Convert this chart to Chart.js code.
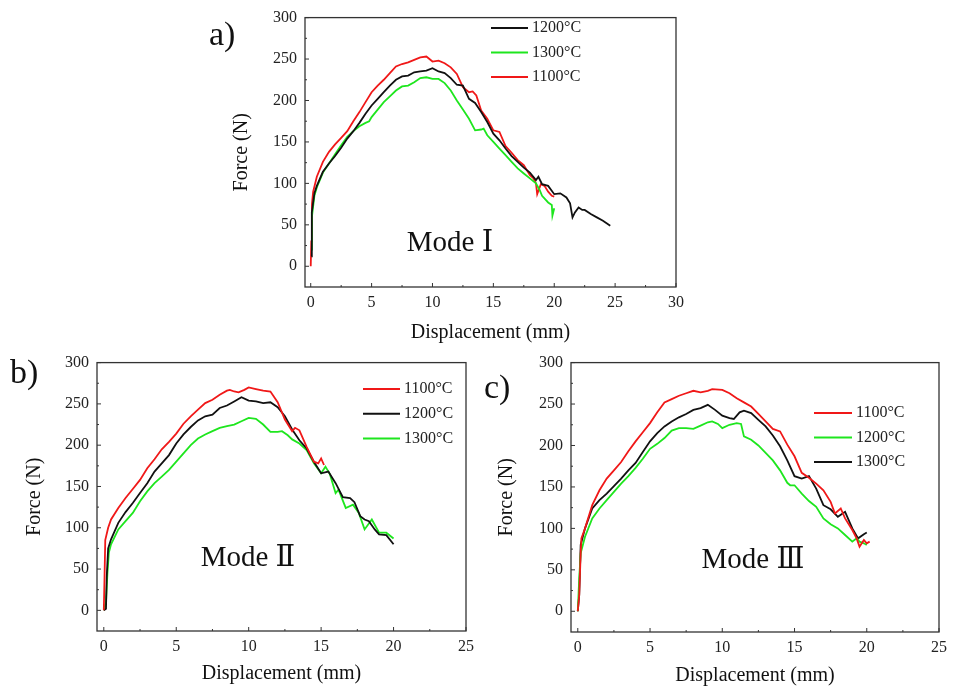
<!DOCTYPE html>
<html>
<head>
<meta charset="utf-8">
<script src="https://cdn.jsdelivr.net/npm/chart.js@4.4.1/dist/chart.umd.min.js"></script>
<style>
  body { margin:0; background:#fff; width:953px; height:693px; position:relative; overflow:hidden; }
  canvas { position:absolute; }
  .lab { position:absolute; font-family:"Liberation Serif","DejaVu Serif",serif; color:#111; white-space:nowrap; line-height:1; }
  .panel { font-size:34px; }
  .mode { font-size:29px; transform:translate(-50%,-50%); }
</style>
</head>
<body>

<canvas id="chartA" width="500" height="349" style="left:200px;top:0px"></canvas>
<canvas id="chartB" width="480" height="345" style="left:0px;top:345px"></canvas>
<canvas id="chartC" width="473" height="347" style="left:480px;top:345px"></canvas>

<div class="lab panel" style="left:209px;top:17px">a)</div>
<div class="lab panel" style="left:10px;top:355px">b)</div>
<div class="lab panel" style="left:484px;top:370px">c)</div>

<div class="lab mode" style="left:450px;top:241px">Mode Ⅰ</div>
<div class="lab mode" style="left:248px;top:556px">Mode Ⅱ</div>
<div class="lab mode" style="left:753px;top:558px">Mode Ⅲ</div>

<script>

/* DADOS - [deslocamento (mm), forca (N)] */

const xTicksA = [0,5,10,15,20,25,30]
const xTicksBC = [0,5,10,15,20,25]
const yTicks = [0,50,100,150,200,250,300]

// Mode I
const a1200 = [[0.05,12],[0.08,40],[0.1,65],[0.3,88],[0.5,97],[1,114],[1.5,124],[2,133],[2.5,143],[3,154],[3.5,163],[4,173],[4.5,184],[5,194],[5.5,202],[6,210],[6.5,218],[7,225],[7.5,229],[8,230],[8.5,234],[9,235],[9.5,236],[10,239],[10.5,235],[11,233],[11.5,227],[12,219],[12.5,218],[13,202],[13.5,197],[14,186],[14.5,174],[15,160],[15.5,152],[16,142],[16.5,133],[17,126],[17.5,119],[18,113],[18.5,104],[18.7,108],[19,99],[19.5,97],[20,87],[20.5,88],[21,83],[21.3,76],[21.5,59],[21.7,65],[22,71],[22.3,68],[22.5,68],[23,63],[23.5,59],[24,55],[24.3,52],[24.6,49]]
const a1300 = [[0.05,20],[0.1,60],[0.3,85],[0.5,95],[1,113],[1.5,124],[2,135],[2.5,146],[3,156],[3.5,163],[4,169],[4.5,173],[4.8,175],[5,180],[5.5,189],[6,198],[6.5,205],[7,212],[7.5,217],[8,218],[8.5,222],[9,227],[9.5,228],[10,226],[10.5,226],[11,221],[11.5,212],[12,200],[12.5,189],[13,178],[13.5,164],[14,165],[14.2,166],[14.5,158],[15,150],[15.5,142],[16,134],[16.5,126],[17,118],[17.5,112],[18,106],[18.5,100],[18.8,92],[19,85],[19.5,77],[19.8,74],[19.85,61],[20,70]]
const a1100 = [[0,0],[0.05,30],[0.1,75],[0.2,90],[0.5,108],[1,126],[1.5,138],[2,147],[2.5,155],[3,163],[3.5,175],[4,186],[4.5,198],[5,210],[5.5,218],[6,225],[6.5,233],[7,241],[7.5,244],[8,246],[8.5,249],[9,252],[9.5,253],[10,247],[10.5,248],[11,245],[11.5,240],[12,232],[12.5,216],[13,210],[13.3,211],[13.6,206],[14,188],[14.5,178],[15,164],[15.5,162],[16,145],[16.5,137],[17,128],[17.5,122],[18,110],[18.3,106],[18.5,100],[18.6,87],[18.9,99],[19.2,97],[19.5,90],[19.8,85],[20,84]]

// Mode II
const b1100 = [[0,0],[0.05,40],[0.1,85],[0.3,100],[0.5,110],[1,124],[1.5,136],[2,147],[2.5,158],[3,172],[3.5,183],[4,195],[4.5,204],[5,214],[5.5,226],[6,235],[6.5,243],[7,251],[7.5,255],[8,261],[8.5,266],[8.7,267],[9,265],[9.3,264],[9.7,267],[10,270],[10.5,268],[11,266],[11.5,265],[12,252],[12.5,231],[13,217],[13.2,221],[13.5,218],[14,198],[14.5,180],[14.8,178],[15,184],[15.2,176]]
const b1200 = [[0,0],[0.15,2],[0.2,40],[0.3,75],[0.5,86],[1,106],[1.5,119],[2,130],[2.5,142],[3,154],[3.5,168],[4,178],[4.5,188],[5,202],[5.5,213],[6,222],[6.5,230],[7,235],[7.5,237],[8,245],[8.5,248],[9,253],[9.5,258],[10,254],[10.5,253],[11,251],[11.5,252],[12,246],[12.5,235],[13,219],[13.5,206],[14,196],[14.5,180],[15,166],[15.5,168],[16,154],[16.5,137],[17,136],[17.3,131],[17.7,114],[18,110],[18.3,108],[18.7,98],[19,92],[19.5,91],[20,80]]
const b1300 = [[0,0],[0.15,10],[0.25,45],[0.35,70],[0.5,80],[1,98],[1.5,108],[2,118],[2.5,132],[3,144],[3.5,154],[4,162],[4.5,170],[5,180],[5.5,190],[6,200],[6.5,208],[7,213],[7.5,217],[8,221],[8.5,223],[9,225],[9.5,229],[10,233],[10.5,232],[11,225],[11.5,216],[12,216],[12.3,217],[12.7,212],[13,207],[13.5,202],[14,194],[14.5,178],[15,166],[15.3,174],[15.6,165],[16,142],[16.2,146],[16.7,124],[17.2,128],[17.6,118],[18,98],[18.5,110],[19,94],[19.5,94],[20,87]]

// Mode III
const c1100 = [[0,0],[0.1,20],[0.2,70],[0.25,88],[0.5,100],[1,128],[1.5,146],[2,160],[2.5,170],[3,180],[3.5,193],[4,205],[4.5,216],[5,227],[5.5,240],[6,252],[6.5,256],[7,260],[7.5,263],[8,266],[8.5,264],[9,266],[9.3,268],[10,267],[10.5,263],[11,257],[11.5,252],[12,247],[12.5,238],[13,229],[13.5,220],[14,217],[14.5,201],[15,187],[15.5,167],[16,161],[16.5,154],[17,146],[17.5,132],[17.8,118],[18.2,124],[18.5,112],[19,98],[19.3,88],[19.5,78],[19.8,86],[20,82],[20.2,84]]
const c1200 = [[0,0],[0.1,40],[0.2,70],[0.5,90],[1,112],[1.5,124],[2,134],[2.5,144],[3,154],[3.5,163],[4,173],[4.5,184],[5,196],[5.5,202],[6,209],[6.5,218],[7,221],[7.5,221],[8,220],[8.5,224],[9,228],[9.3,229],[9.7,226],[10,221],[10.5,225],[11,227],[11.3,226],[11.5,211],[12,207],[12.5,200],[13,191],[13.5,182],[14,170],[14.5,155],[14.7,152],[15,152],[15.5,142],[16,133],[16.5,126],[17,112],[17.5,105],[18,100],[18.5,92],[19,84],[19.3,88],[19.5,84],[19.8,82],[20,80]]
const c1300 = [[0,0],[0.1,20],[0.2,80],[0.5,100],[1,124],[1.5,134],[2,142],[2.5,151],[3,160],[3.5,170],[4,179],[4.5,192],[5,205],[5.5,215],[6,223],[6.5,229],[7,234],[7.5,238],[8,243],[8.5,245],[9,249],[9.5,243],[10,236],[10.5,233],[10.8,232],[11.2,240],[11.5,242],[12,239],[12.5,231],[13,223],[13.5,212],[14,199],[14.5,182],[15,163],[15.5,160],[16,163],[16.5,148],[17,128],[17.5,123],[18,114],[18.5,120],[19,100],[19.4,88],[19.8,93],[20,95]]

const RED = "#f01818"
const GREEN = "#1ee61e"
const BLACK = "#111111"
const SERIF = "'Liberation Serif','DejaVu Serif',serif"


/* MOLDURA, TICKS PARA DENTRO E LEGENDA */

const frame = {
    id: "frame",
    afterDatasetsDraw(chart, args, o) {
        const {ctx, chartArea: c, scales: {x, y}} = chart
        ctx.save()
        ctx.strokeStyle = "#333"
        ctx.lineWidth = 1.3
        ctx.strokeRect(c.left, c.top, c.right - c.left, c.bottom - c.top)

        const seg = (x1, y1, x2, y2) => {
            ctx.beginPath(); ctx.moveTo(x1, y1); ctx.lineTo(x2, y2); ctx.stroke()
        }
        ctx.lineWidth = 1
        x.ticks.forEach((t, i) => {
            const p = x.getPixelForValue(t.value)
            seg(p, c.bottom, p, c.bottom - 4)
            if (i < x.ticks.length - 1) {
                const m = x.getPixelForValue((t.value + x.ticks[i + 1].value) / 2)
                seg(m, c.bottom, m, c.bottom - 2)
            }
        })
        y.ticks.forEach((t, i) => {
            const p = y.getPixelForValue(t.value)
            seg(c.left, p, c.left + 4, p)
            if (i < y.ticks.length - 1) {
                const m = y.getPixelForValue((t.value + y.ticks[i + 1].value) / 2)
                seg(c.left, m, c.left + 2, m)
            }
        })

        // legenda
        ctx.font = "16px " + SERIF
        ctx.textBaseline = "middle"
        ctx.fillStyle = "#222"
        chart.data.datasets.forEach((ds, i) => {
            const ry = o.top + i * o.gap
            ctx.strokeStyle = ds.borderColor
            ctx.lineWidth = 2
            seg(o.x1, ry, o.x2, ry)
            ctx.fillText(ds.label, o.x2 + 4, ry)
        })
        ctx.restore()
    }
}


/* FUNCAO PARA CADA GRAFICO */

function grafico(id, series, xTicks, xMax, pad, yWidth, xHeight, leg) {

    return new Chart(document.getElementById(id), {
        type: "line",
        data: {
            datasets: series.map(s => ({
                label: s[0],
                data: s[1],
                borderColor: s[2],
                borderWidth: 1.8,
                pointRadius: 0,
                tension: 0,
                fill: false
            }))
        },
        options: {
            responsive: false,
            animation: false,
            layout: { padding: pad },
            plugins: {
                legend: { display: false },
                tooltip: { enabled: false },
                frame: leg
            },
            scales: {
                x: {
                    type: "linear",
                    min: -0.47,
                    max: xMax,
                    afterBuildTicks: s => { s.ticks = xTicks.map(v => ({ value: v })) },
                    afterFit: s => { s.height = xHeight },
                    grid: { display: false, drawTicks: false },
                    border: { display: false },
                    ticks: { padding: 6, color: "#222", font: { family: SERIF, size: 16 } },
                    title: { display: true, text: "Displacement (mm)", color: "#111", font: { family: SERIF, size: 20 } }
                },
                y: {
                    type: "linear",
                    min: -25,
                    max: 300,
                    afterBuildTicks: s => { s.ticks = yTicks.map(v => ({ value: v })) },
                    afterFit: s => { s.width = yWidth },
                    grid: { display: false, drawTicks: false },
                    border: { display: false },
                    ticks: { padding: 8, color: "#222", font: { family: SERIF, size: 16 } },
                    title: { display: true, text: "Force (N)", color: "#111", font: { family: SERIF, size: 20 } }
                }
            }
        },
        plugins: [frame]
    })
}


/* GRAFICO a) MODE I */

grafico("chartA",
    [["1200°C", a1200, BLACK], ["1300°C", a1300, GREEN], ["1100°C", a1100, RED]],
    xTicksA, 30,
    { left: 26, right: 24, top: 14, bottom: 0 }, 79, 62,
    { x1: 291, x2: 328, top: 28, gap: 24.5 })


/* GRAFICO b) MODE II */

grafico("chartB",
    [["1100°C", b1100, RED], ["1200°C", b1200, BLACK], ["1300°C", b1300, GREEN]],
    xTicksBC, 25,
    { left: 19, right: 12, top: 12, bottom: 0 }, 78, 59,
    { x1: 363, x2: 400, top: 44, gap: 24.7 })


/* GRAFICO c) MODE III */

grafico("chartC",
    [["1100°C", c1100, RED], ["1200°C", c1200, GREEN], ["1300°C", c1300, BLACK]],
    xTicksBC, 25,
    { left: 11, right: 12, top: 14, bottom: 0 }, 80, 60,
    { x1: 334, x2: 372, top: 68, gap: 24.5 })

</script>
</body>
</html>
